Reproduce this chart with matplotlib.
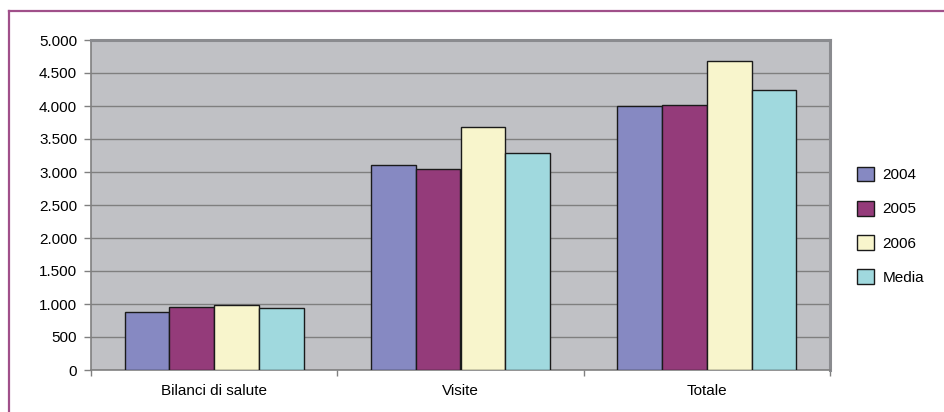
import matplotlib
matplotlib.use("Agg")
import matplotlib.pyplot as plt
import numpy as np
from matplotlib.lines import Line2D
from matplotlib.patches import Patch
from matplotlib.ticker import FuncFormatter, FixedLocator

plt.rcParams['font.family'] = ['Liberation Sans Narrow', 'Liberation Sans', 'DejaVu Sans']

categories = ["Bilanci di salute", "Visite", "Totale"]
series_names = ["2004", "2005", "2006", "Media"]
v2004 = [876, 3106, 3993]
v2005 = [956, 3051, 4018]
v2006 = [987, 3675, 4687]
media = [941, 3282, 4240]
colors = ["#8689c2", "#943b7a", "#f8f5cc", "#a0d9de"]

W, H = 944, 412
fig = plt.figure(figsize=(W / 100, H / 100), dpi=100)

# outer frame (top and left edges)
fig.add_artist(Line2D([9 / W, 1.0], [1 - 11 / H, 1 - 11 / H], color="#a0508a", lw=1.6))
fig.add_artist(Line2D([9 / W, 9 / W], [0, 1 - 11 / H], color="#a0508a", lw=1.6))

left, right, top, bottom = 91, 830, 40, 370
ax = fig.add_axes([left / W, 1 - bottom / H, (right - left) / W, (bottom - top) / H])
ax.set_facecolor("#c0c1c5")

data = [v2004, v2005, v2006, media]
x = np.arange(len(categories))
bw = 0.727 / 4
for i, (vals, c, name) in enumerate(zip(data, colors, series_names)):
    ax.bar(x + (i - 1.5) * bw, vals, width=bw, color=c, edgecolor="#1a1a1a",
           linewidth=1.0, zorder=3, label=name)

ax.set_xlim(-0.5, len(categories) - 0.5)
ax.set_ylim(0, 5000)
ax.set_yticks(np.arange(0, 5001, 500))
ax.yaxis.set_major_formatter(FuncFormatter(lambda v, p: f"{int(v):,}".replace(",", ".")))
ax.grid(axis="y", color="#7f7f7f", lw=1.0, zorder=1)
ax.set_axisbelow(True)

ax.set_xticks(x)
ax.set_xticklabels(categories)
ax.xaxis.set_minor_locator(FixedLocator([-0.5, 0.5, 1.5, 2.5]))
ax.tick_params(axis="x", which="major", length=0, pad=10, labelsize=11, colors="black")
ax.tick_params(axis="x", which="minor", length=4, color="#808080", width=1)
ax.tick_params(axis="y", length=5, color="#808080", width=1, pad=5, labelsize=11)

for s in ["left", "bottom"]:
    ax.spines[s].set_color("#808080")
    ax.spines[s].set_linewidth(1.2)
for s in ["top", "right"]:
    ax.spines[s].set_color("#8a8b8f")
    ax.spines[s].set_linewidth(2.2)

handles = [Patch(facecolor=c, edgecolor="#1a1a1a", lw=1.0) for c in colors]
fig.legend(handles, series_names, loc="upper left",
           bbox_to_anchor=(843 / W, 1 - 153 / H), frameon=False,
           fontsize=11, handlelength=1.1, handleheight=1.1,
           handletextpad=0.6, labelspacing=1.22)

fig.savefig("out.png", dpi=100, facecolor="white")
